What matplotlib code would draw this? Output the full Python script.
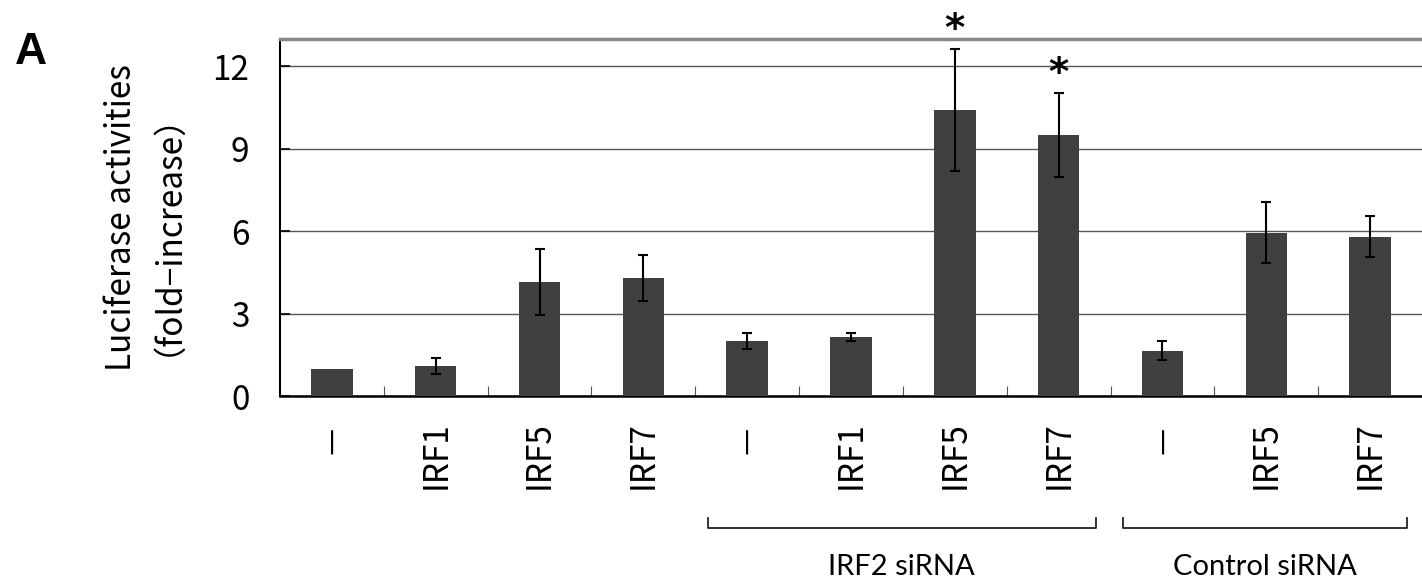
import numpy as np
import matplotlib
matplotlib.use("Agg")
import matplotlib.pyplot as plt
from matplotlib.ticker import MultipleLocator, FixedLocator

# data
labels = ["－", "IRF1", "IRF5", "IRF7", "－", "IRF1", "IRF5", "IRF7", "－", "IRF5", "IRF7"]
means = [1.0, 1.1, 4.15, 4.3, 2.0, 2.15, 10.4, 9.5, 1.65, 5.95, 5.8]
errors = [0.0, 0.3, 1.2, 0.85, 0.3, 0.15, 2.22, 1.53, 0.35, 1.1, 0.75]
significant = [False, False, False, False, False, False, True, True, False, False, False]
groups = [("IRF2 siRNA", 4, 7), ("Control siRNA", 8, 10)]

jp = ["Noto Sans CJK JP", "DejaVu Sans"]

fig = plt.figure(figsize=(14.22, 5.84), dpi=100)
ax = fig.add_axes([280 / 1422, 1 - 396 / 584, 1 - 280 / 1422, 357 / 584])

x = np.arange(len(means))
ax.bar(x, means, width=0.4, color="#404040", zorder=3)
has_err = [i for i, e in enumerate(errors) if e > 0]
ax.errorbar(x[has_err], np.array(means)[has_err], yerr=np.array(errors)[has_err],
            fmt="none", ecolor="black", elinewidth=1.5,
            capsize=3.6, capthick=1.5, zorder=4)

for xi, m, e, s in zip(x, means, errors, significant):
    if s:
        ax.text(xi, m + e + 0.3, "*", ha="center", va="baseline", fontsize=28,
                fontweight="bold", family="DejaVu Sans", clip_on=False)

ax.set_xlim(-0.5, len(means) - 0.5)
ax.set_ylim(0, 13)
ax.yaxis.set_major_locator(MultipleLocator(3))
ax.yaxis.grid(True, color="#555555", linewidth=1.0, zorder=0)
ax.set_axisbelow(True)

ax.set_xticks(x)
ax.set_xticklabels(labels, rotation=90, family=jp, fontsize=24, va="top")
ax.xaxis.set_minor_locator(FixedLocator(np.arange(0.5, len(means) - 1, 1.0)))
ax.tick_params(axis="x", which="major", length=0, pad=18)
ax.tick_params(axis="x", which="minor", direction="in", length=7, width=0.8, color="#555555")
ax.tick_params(axis="y", direction="in", length=7, width=1.2, pad=22, labelsize=24)
for lab in ax.get_yticklabels():
    lab.set_family(jp)

ax.spines["right"].set_visible(False)
ax.spines["top"].set_color("#888888")
ax.spines["top"].set_linewidth(2.5)
ax.spines["left"].set_linewidth(1.5)
ax.spines["bottom"].set_linewidth(1.8)

ax.set_ylabel("Luciferase activities\n（fold−increase）", family=jp, fontsize=24,
              linespacing=0.79)
ax.yaxis.set_label_coords(-112 / 1142, 0.5)

# group brackets below the tick labels
trans = ax.get_xaxis_transform()
for name, i0, i1 in groups:
    xa, xb = i0 - 0.38, i1 + 0.36
    ax.plot([xa, xa, xb, xb], [-0.342, -0.370, -0.370, -0.342], color="#222222",
            linewidth=1.3, transform=trans, clip_on=False)
    ax.text((xa + xb) / 2, -0.48, name, ha="center", va="center", fontsize=21,
            family=["Lato", "DejaVu Sans"], transform=trans)

fig.text(15 / 1422, 1 - 53 / 584, "A", fontsize=32, fontweight="bold",
         family="Liberation Sans", va="center", ha="left")

fig.savefig("out.png", dpi=100)
